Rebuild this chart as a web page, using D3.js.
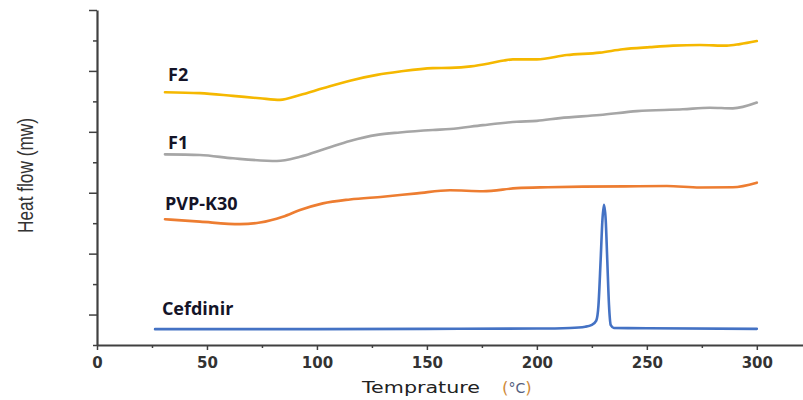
<!DOCTYPE html>
<html>
<head>
<meta charset="utf-8">
<script src="https://cdn.jsdelivr.net/npm/d3@7"></script>
<style>
  html, body { margin: 0; padding: 0; background: #fff; }
  svg { display: block; }
</style>
</head>
<body>
<div id="chart"></div>
<script>
// ---- Data (temperature °C, heat flow in arbitrary stacked units) ----
const seriesNames = ["F2", "F1", "PVP-K30", "Cefdinir"];
const seriesColors = ["#F5B800", "#A6A6A6", "#ED7D31", "#4472C4"];

const f2Temp = [30.9, 46.8, 61.8, 74.1, 83.2, 92.3, 102.7, 115, 127.3, 137.7, 152.7, 160.5, 170, 178.6, 185, 189.1, 200, 213.6, 228.6, 239.1, 251.4, 262, 274.1, 286.4, 292.3, 300];
const f2Flow = [8.30, 8.27, 8.18, 8.10, 8.05, 8.21, 8.43, 8.68, 8.87, 8.98, 9.09, 9.10, 9.15, 9.25, 9.34, 9.38, 9.38, 9.52, 9.60, 9.71, 9.78, 9.83, 9.85, 9.83, 9.88, 9.98];

const f1Temp = [30.9, 46.8, 61.8, 81.8, 92.3, 104.5, 115, 127.3, 137.7, 152.7, 160.5, 175.5, 190.9, 200, 210.5, 228.6, 245.5, 266.4, 278.6, 289.1, 300];
const f1Flow = [6.26, 6.24, 6.13, 6.04, 6.18, 6.46, 6.70, 6.90, 6.98, 7.06, 7.09, 7.22, 7.33, 7.36, 7.45, 7.55, 7.68, 7.74, 7.79, 7.77, 7.96];

const pvpTemp = [30.9, 46.8, 65, 74.1, 84.5, 92.3, 102.7, 115, 130, 145.5, 160.5, 175.5, 190.9, 205, 220.9, 240, 259.1, 274.1, 289.1, 300];
const pvpFlow = [4.13, 4.05, 3.97, 4.02, 4.21, 4.43, 4.65, 4.78, 4.87, 4.98, 5.08, 5.05, 5.15, 5.18, 5.20, 5.21, 5.22, 5.17, 5.18, 5.33];

const cefTemp = [26.4, 100, 150, 200, 215, 222, 225, 227, 228, 229, 229.8, 230.5, 231.3, 232, 232.8, 233.6, 235, 250, 300];
const cefFlow = [0.52, 0.52, 0.53, 0.54, 0.56, 0.60, 0.66, 0.80, 1.30, 2.80, 4.10, 4.60, 4.10, 2.80, 1.30, 0.65, 0.56, 0.55, 0.53];

const xTicks = [0, 25, 50, 75, 100, 125, 150, 175, 200, 225, 250, 275, 300];
const xTickLabels = ["0", "", "50", "", "100", "", "150", "", "200", "", "250", "", "300"];
const yTicks = [0, 1, 2, 3, 4, 5, 6, 7, 8, 9, 10, 11];

const xTitle = "Temprature";
const xUnit = "°C";
const yTitle = "Heat flow (mw)";

// ---- Drawing ----
const W = 803, H = 400;
const svg = d3.select("#chart").append("svg").attr("width", W).attr("height", H);

const x = d3.scaleLinear().domain([0, 321]).range([97, 803]);
const y = d3.scaleLinear().domain([0, 11]).range([345, 10]);

const axisColor = "#404040";

// X axis
const xAxis = d3.axisBottom(x)
  .tickValues(xTicks)
  .tickFormat((d, i) => xTickLabels[i])
  .tickSize(5)
  .tickSizeOuter(0)
  .tickPadding(7);
const gx = svg.append("g").attr("transform", `translate(0,${y(0)})`).call(xAxis);
gx.select(".domain").attr("stroke", axisColor).attr("stroke-width", 2);
gx.selectAll(".tick line").attr("stroke", axisColor).attr("stroke-width", 1.5)
  .attr("y2", (d, i) => xTickLabels[i] ? 5 : 3);
gx.selectAll(".tick text")
  .attr("fill", "#333")
  .attr("font-family", "DejaVu Sans, Verdana, sans-serif")
  .attr("font-weight", "bold")
  .attr("font-size", 15);

// Y axis
const yAxis = d3.axisLeft(y)
  .tickValues(yTicks)
  .tickFormat("")
  .tickSize(8)
  .tickSizeOuter(0);
const gy = svg.append("g").attr("transform", `translate(${x(0)},0)`).call(yAxis);
gy.select(".domain").attr("stroke", axisColor).attr("stroke-width", 2.2);
gy.selectAll(".tick line").attr("stroke", axisColor).attr("stroke-width", 1.5)
  .attr("x2", d => (d % 2 === 1) ? -8 : -4);

// Axis titles
const xt = svg.append("text")
  .attr("y", 393)
  .attr("fill", "#222")
  .attr("font-family", "DejaVu Sans, Verdana, sans-serif")
  .attr("font-size", 16.5);
xt.append("tspan").attr("x", 362).attr("textLength", 118).attr("lengthAdjust", "spacingAndGlyphs").text(xTitle);
xt.append("tspan").attr("x", 502).attr("fill", "#D08A3A").text("(");
xt.append("tspan").attr("fill", "#556080").attr("font-size", 14).text(xUnit);
xt.append("tspan").attr("fill", "#D08A3A").text(")");

svg.append("text")
  .attr("transform", "translate(33,175.5) rotate(-90)")
  .attr("text-anchor", "middle")
  .attr("fill", "#333")
  .attr("font-family", "Liberation Sans, Arial, sans-serif")
  .attr("font-size", 22)
  .attr("textLength", 115)
  .attr("lengthAdjust", "spacingAndGlyphs")
  .text(yTitle);

// Lines
const line = d3.line().x(d => x(d[0])).y(d => y(d[1])).curve(d3.curveMonotoneX);
const series = [
  [f2Temp, f2Flow],
  [f1Temp, f1Flow],
  [pvpTemp, pvpFlow],
  [cefTemp, cefFlow]
];
series.forEach((s, i) => {
  const pts = s[0].map((t, j) => [t, s[1][j]]);
  svg.append("path")
    .datum(pts)
    .attr("fill", "none")
    .attr("stroke", seriesColors[i])
    .attr("stroke-width", 2.6)
    .attr("stroke-linejoin", "round")
    .attr("stroke-linecap", "round")
    .attr("d", line);
});

// Series labels
const labelPos = [
  { t: 32.3, v: 8.67 },   // F2
  { t: 32.3, v: 6.43 },   // F1
  { t: 30.9, v: 4.43 },   // PVP-K30
  { t: 29.5, v: 0.98 }    // Cefdinir
];
seriesNames.forEach((name, i) => {
  svg.append("text")
    .attr("x", x(labelPos[i].t))
    .attr("y", y(labelPos[i].v))
    .attr("fill", "#141428")
    .attr("font-family", "Open Sans, Liberation Sans, sans-serif")
    .attr("font-weight", "bold")
    .attr("font-size", 18)
    .text(name);
});
</script>
</body>
</html>
